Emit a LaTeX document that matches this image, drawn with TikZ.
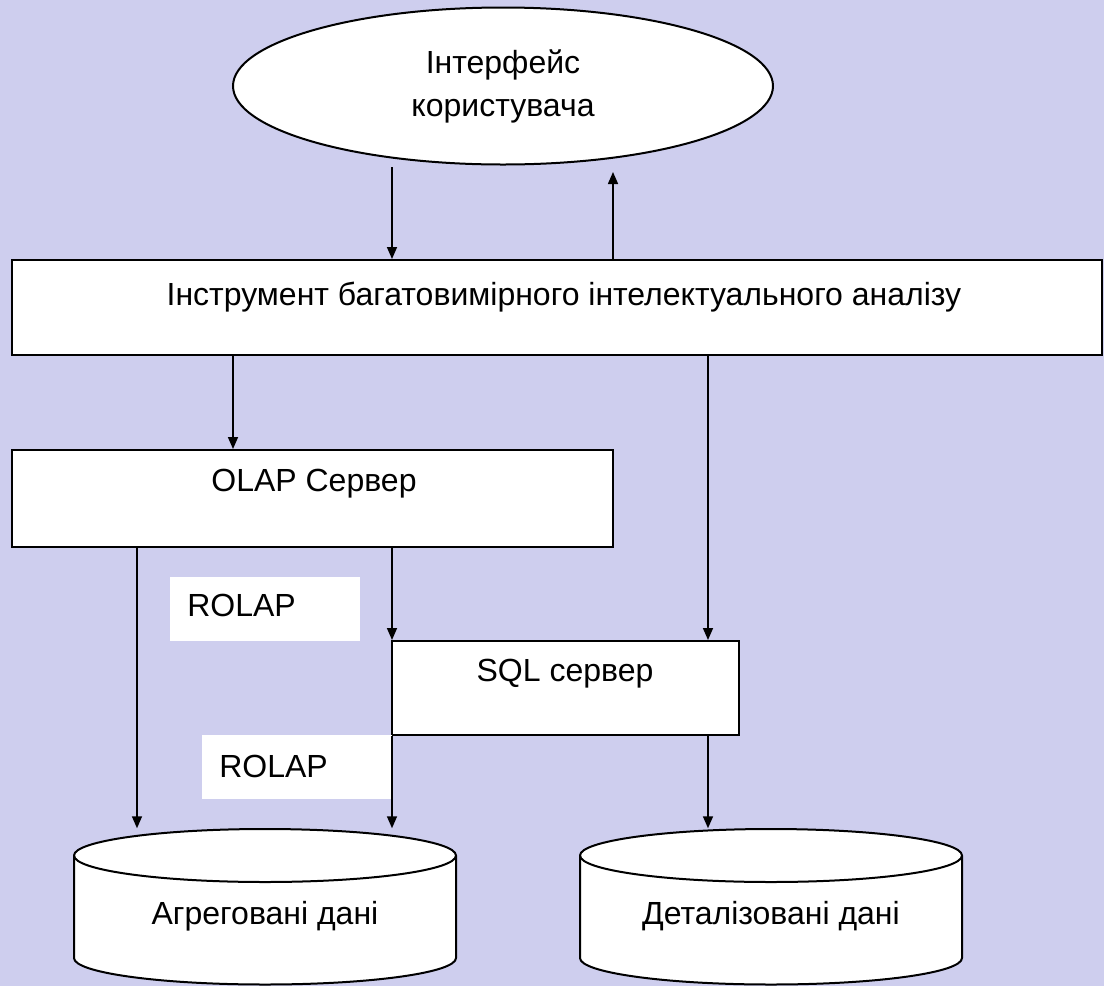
\documentclass[tikz,border=0pt]{standalone}
\usepackage{fontspec}
\setmainfont{Liberation Sans}
\usetikzlibrary{arrows.meta,shapes.geometric}
\definecolor{lavender}{RGB}{206,206,238}

\begin{document}
\begin{tikzpicture}[x=1pt, y=1pt, line width=0.8pt,
    >={Triangle[length=6pt, width=5pt]},
    ui/.style = {draw, line width=1pt, fill=white, ellipse, inner sep=0pt,
        minimum width=270pt, minimum height=78.5pt, align=center,
        font=\fontsize{16}{21.5}\selectfont},
    box/.style = {draw, line width=1pt, fill=white, rectangle, inner sep=0pt},
    tag/.style = {fill=white, inner sep=0pt, minimum width=95pt, minimum height=32pt},
    txt/.style = {font=\fontsize{16}{18}\selectfont, anchor=base, inner sep=0pt},
    can/.style = {draw, line width=1pt, fill=white}]
        \useasboundingbox (0,0) rectangle (552,-493);
        \fill[lavender] (0,0) rectangle (552,-493);

        \node[ui] (ui) at (251.5,-43) {Інтерфейс\\користувача};

        \node[box, minimum width=545pt, minimum height=47.5pt] (tool) at (278.5,-153.75) {};
        \node[txt] (toolname) at (282,-152.5) {Інструмент багатовимірного інтелектуального аналізу};

        \node[box, minimum width=300.5pt, minimum height=48.5pt] (olap) at (156.25,-249.25) {};
        \node[txt] (olapname) at (157,-245.5) {OLAP Сервер};

        \node[box, minimum width=173.5pt, minimum height=47pt] (sql) at (282.75,-344) {};
        \node[txt] (sqlname) at (282.5,-340.5) {SQL сервер};

        \node[tag] (rolapa) at (132.5,-304.5) {};
        \node[txt] (rolapatxt) at (120.75,-308) {ROLAP};
        \node[tag] (rolapb) at (148.5,-383.5) {};
        \node[txt] (rolapbtxt) at (136.75,-388.5) {ROLAP};

        % data stores
        \foreach \n/\x/\t in {agg/132.5/Агреговані дані, det/385.5/Деталізовані дані} {
            \filldraw[can] (\x-95.5,-427.75) -- (\x-95.5,-479)
                arc[start angle=180, end angle=360, x radius=95.5, y radius=13.25]
                -- (\x+95.5,-427.75)
                arc[start angle=0, end angle=180, x radius=95.5, y radius=13.25] -- cycle;
            \draw[line width=1pt] (\x-95.5,-427.75)
                arc[start angle=180, end angle=360, x radius=95.5, y radius=13.25];
            \node[inner sep=0pt, minimum width=191pt, minimum height=77.75pt] (\n) at (\x,-453.4) {};
            \node[txt] (\n name) at (\x,-462) {\t};
        }

        % arrow columns
        \coordinate (uiout) at (196,-83.5);
        \coordinate (uiin) at (306.5,-86);
        \coordinate (xa) at (68.5,0);
        \coordinate (xb) at (116.5,0);
        \coordinate (xc) at (196,0);
        \coordinate (xe) at (354,0);

        \draw[->] (uiout) -- (uiout |- tool.north);
        \draw[->] (uiin |- tool.north) -- (uiin);
        \draw[->] (xb |- tool.south) -- (xb |- olap.north);
        \draw[->] (xe |- tool.south) -- (xe |- sql.north);
        \draw[->] (xc |- olap.south) -- (xc |- sql.north);
        \draw[->] (xa |- olap.south) -- (xa |- agg.north);
        \draw[->] (xc |- sql.south) -- (xc |- agg.north);
        \draw[->] (xe |- sql.south) -- (xe |- det.north);
\end{tikzpicture}
\end{document}
